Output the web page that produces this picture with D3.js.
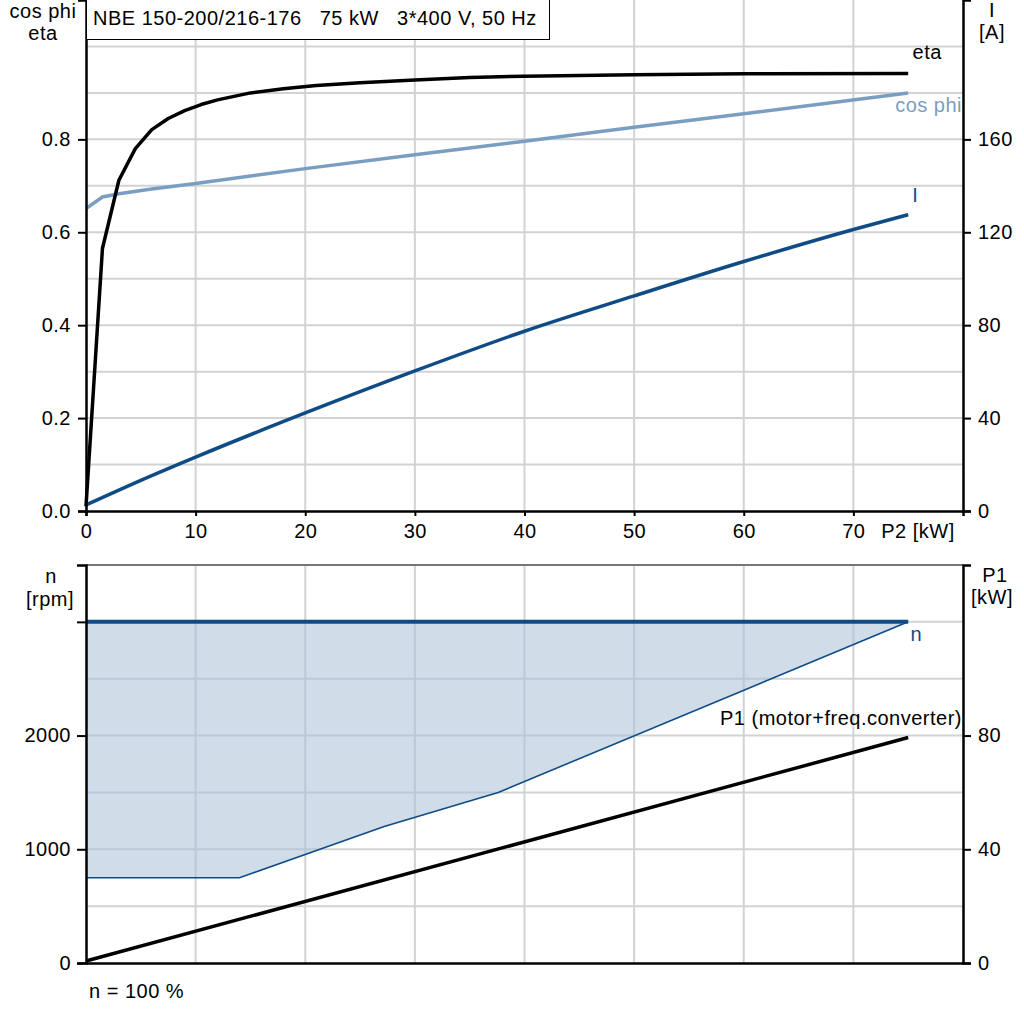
<!DOCTYPE html>
<html>
<head>
  <script src="https://d3js.org/d3.v7.min.js"></script>
  <style>
    body { margin: 0; background: #fff; }
    text { font-family: "Liberation Sans", Arial, sans-serif; font-size: 20px; letter-spacing: 0.5px; fill: #000; }
  </style>
</head>
<body>
  <svg id="chart"></svg>
  <script>
    // P2 [kW] sample points
    var p2Eta = [0, 1.5, 3, 4.5, 6, 7.5, 9, 10.5, 12, 15, 18, 21, 25, 30, 35, 40, 50, 60, 75];
    var etaVals = [0.01, 0.565, 0.712, 0.78, 0.821, 0.845, 0.862, 0.875, 0.885, 0.9, 0.909, 0.916, 0.922, 0.928, 0.933, 0.936, 0.939, 0.941, 0.942];

    var p2Cos = [0, 1.5, 3, 6, 10, 20, 30, 40, 50, 60, 75];
    var cosVals = [0.651, 0.676, 0.683, 0.693, 0.705, 0.737, 0.767, 0.796, 0.826, 0.855, 0.9];

    var p2Cur = [0, 5, 10, 20, 30, 40, 50, 60, 70, 75];
    var curVals = [2.6, 13.2, 23.2, 42.2, 60.3, 77.4, 92.6, 107.4, 121.2, 127.6];

    var p2Speed = [0, 14, 27.2, 37.6, 75];
    var nMax = [3000, 3000, 3000, 3000, 3000];
    var nMin = [750, 750, 1200, 1500, 3000];

    var p2P1 = [0, 75];
    var p1Vals = [0.7, 79.3];

    var xTicks = [0, 10, 20, 30, 40, 50, 60, 70];
    var leftTopTicks = [0, 0.2, 0.4, 0.6, 0.8];
    var rightTopTicks = [0, 40, 80, 120, 160];
    var leftBotTicks = [0, 1000, 2000, 3000];
    var rightBotTicks = [0, 40, 80];

    var W = 1024, H = 1024;
    var svg = d3.select("#chart").attr("width", W).attr("height", H);

    var x = d3.scaleLinear().domain([0, 80]).range([86, 963]);
    var yEta = d3.scaleLinear().domain([0, 1.1]).range([511, 0]);
    var yCur = d3.scaleLinear().domain([0, 220]).range([511, 0]);
    var yN = d3.scaleLinear().domain([0, 3500]).range([963, 565]);
    var yP1 = d3.scaleLinear().domain([0, 140]).range([963, 565]);

    var gridColor = "#d0d3d6";
    var blue = "#0f4c86";
    var lightBlue = "#7a9ec2";

    // ---------- top panel ----------
    var topG = svg.append("g");
    topG.selectAll(".hg").data(d3.range(1, 11).map(function(i) { return i / 10; }))
      .enter().append("line")
      .attr("x1", x(0)).attr("x2", x(80))
      .attr("y1", function(d) { return yEta(d); }).attr("y2", function(d) { return yEta(d); })
      .attr("stroke", gridColor).attr("stroke-width", 2);
    topG.selectAll(".vg").data(d3.range(10, 80, 10))
      .enter().append("line")
      .attr("x1", function(d) { return x(d); }).attr("x2", function(d) { return x(d); })
      .attr("y1", yEta(1.1)).attr("y2", yEta(0))
      .attr("stroke", gridColor).attr("stroke-width", 2);

    var lineEta = d3.line().x(function(d) { return x(d[0]); }).y(function(d) { return yEta(d[1]); });
    var lineCur = d3.line().x(function(d) { return x(d[0]); }).y(function(d) { return yCur(d[1]); })
      .curve(d3.curveMonotoneX);

    topG.append("path").datum(d3.zip(p2Cos, cosVals)).attr("d", lineEta)
      .attr("fill", "none").attr("stroke", lightBlue).attr("stroke-width", 3.5);
    topG.append("path").datum(d3.zip(p2Eta, etaVals)).attr("d", lineEta)
      .attr("fill", "none").attr("stroke", "#000").attr("stroke-width", 3.5).attr("stroke-linejoin", "round");
    topG.append("path").datum(d3.zip(p2Cur, curVals)).attr("d", lineCur)
      .attr("fill", "none").attr("stroke", blue).attr("stroke-width", 3.5);

    // axes
    topG.append("g").attr("transform", "translate(0,511)")
      .call(d3.axisBottom(x).tickValues(xTicks).tickSize(5).tickPadding(8).tickFormat(d3.format("d")))
      .call(styleAxis);
    topG.append("g").attr("transform", "translate(86,0)")
      .call(d3.axisLeft(yEta).tickValues(leftTopTicks).tickSize(8).tickPadding(7).tickFormat(d3.format(".1f")))
      .call(styleAxis);
    topG.append("g").attr("transform", "translate(963,0)")
      .call(d3.axisRight(yCur).tickValues(rightTopTicks).tickSize(8).tickPadding(7).tickFormat(d3.format("d")))
      .call(styleAxis);

    // title box
    topG.append("rect").attr("x", 86.5).attr("y", -1).attr("width", 463).attr("height", 40.5)
      .attr("fill", "#fff").attr("stroke", "#000").attr("stroke-width", 1);
    topG.append("text").attr("x", 93).attr("y", 25).attr("xml:space", "preserve")
      .style("white-space", "pre")
      .text("NBE 150-200/216-176   75 kW   3*400 V, 50 Hz");

    topG.append("text").attr("x", 43).attr("y", 18).attr("text-anchor", "middle").text("cos phi");
    topG.append("text").attr("x", 43).attr("y", 40).attr("text-anchor", "middle").text("eta");
    topG.append("text").attr("x", 992).attr("y", 17).attr("text-anchor", "middle").text("I");
    topG.append("text").attr("x", 992).attr("y", 39).attr("text-anchor", "middle").text("[A]");
    topG.append("text").attr("x", 918).attr("y", 538).attr("text-anchor", "middle").text("P2 [kW]");

    topG.append("text").attr("x", x(75) + 19).attr("y", yEta(etaVals[etaVals.length - 1]) - 14)
      .attr("text-anchor", "middle").text("eta");
    topG.append("text").attr("x", 962).attr("y", yEta(cosVals[cosVals.length - 1]) + 19)
      .attr("text-anchor", "end").style("fill", lightBlue).text("cos phi");
    topG.append("text").attr("x", x(75) + 7).attr("y", yCur(curVals[curVals.length - 1]) - 13)
      .attr("text-anchor", "middle").style("fill", blue).text("I");

    // ---------- bottom panel ----------
    var botG = svg.append("g");
    botG.selectAll(".hg").data(d3.range(500, 3500, 500))
      .enter().append("line")
      .attr("x1", x(0)).attr("x2", x(80))
      .attr("y1", function(d) { return yN(d); }).attr("y2", function(d) { return yN(d); })
      .attr("stroke", gridColor).attr("stroke-width", 2);
    botG.selectAll(".vg").data(d3.range(10, 80, 10))
      .enter().append("line")
      .attr("x1", function(d) { return x(d); }).attr("x2", function(d) { return x(d); })
      .attr("y1", yN(3500)).attr("y2", yN(0))
      .attr("stroke", gridColor).attr("stroke-width", 2);

    var speed = d3.range(p2Speed.length).map(function(i) { return { p: p2Speed[i], hi: nMax[i], lo: nMin[i] }; });
    botG.append("path").datum(speed)
      .attr("d", d3.area().x(function(d) { return x(d.p); }).y0(function(d) { return yN(d.lo); }).y1(function(d) { return yN(d.hi); }))
      .attr("fill", "#a9bfd5").attr("fill-opacity", 0.55);
    botG.append("path").datum(speed)
      .attr("d", d3.line().x(function(d) { return x(d.p); }).y(function(d) { return yN(d.lo); }))
      .attr("fill", "none").attr("stroke", blue).attr("stroke-width", 1.6);
    botG.append("path").datum(speed)
      .attr("d", d3.line().x(function(d) { return x(d.p); }).y(function(d) { return yN(d.hi); }))
      .attr("fill", "none").attr("stroke", blue).attr("stroke-width", 4);

    botG.append("path").datum(d3.zip(p2P1, p1Vals))
      .attr("d", d3.line().x(function(d) { return x(d[0]); }).y(function(d) { return yP1(d[1]); }))
      .attr("fill", "none").attr("stroke", "#000").attr("stroke-width", 3.5);

    // frame
    botG.append("line").attr("x1", x(0)).attr("x2", x(80)).attr("y1", 565).attr("y2", 565)
      .attr("stroke", "#777").attr("stroke-width", 2);
    botG.append("g").attr("transform", "translate(0,963)")
      .call(d3.axisBottom(x).tickValues([]).tickSize(0)).call(styleAxis);
    botG.append("g").attr("transform", "translate(86,0)")
      .call(d3.axisLeft(yN).tickValues(leftBotTicks).tickSize(9).tickPadding(6)
        .tickFormat(function(d) { return d === 3000 ? "" : d; }))
      .call(styleAxis);
    botG.append("g").attr("transform", "translate(963,0)")
      .call(d3.axisRight(yP1).tickValues(rightBotTicks).tickSize(8).tickPadding(7).tickFormat(d3.format("d")))
      .call(styleAxis);

    botG.append("text").attr("x", 51).attr("y", 583).attr("text-anchor", "middle").text("n");
    botG.append("text").attr("x", 50).attr("y", 606).attr("text-anchor", "middle").text("[rpm]");
    botG.append("text").attr("x", 995).attr("y", 582).attr("text-anchor", "middle").text("P1");
    botG.append("text").attr("x", 992).attr("y", 604).attr("text-anchor", "middle").text("[kW]");
    botG.append("text").attr("x", 89).attr("y", 998).text("n = 100 %");

    botG.append("text").attr("x", x(75) + 8).attr("y", yN(3000) + 19)
      .attr("text-anchor", "middle").style("fill", blue).text("n");
    botG.append("text").attr("x", 962).attr("y", yP1(p1Vals[1]) - 13)
      .attr("text-anchor", "end").text("P1 (motor+freq.converter)");

    function styleAxis(g) {
      g.select(".domain").attr("stroke", "#000").attr("stroke-width", 2.5);
      g.selectAll(".tick line").attr("stroke", "#000").attr("stroke-width", 2);
      g.selectAll(".tick text").style("font-family", "'Liberation Sans', Arial, sans-serif")
        .style("font-size", "20px").style("letter-spacing", "0.5px").attr("fill", "#000");
    }
  </script>
</body>
</html>
